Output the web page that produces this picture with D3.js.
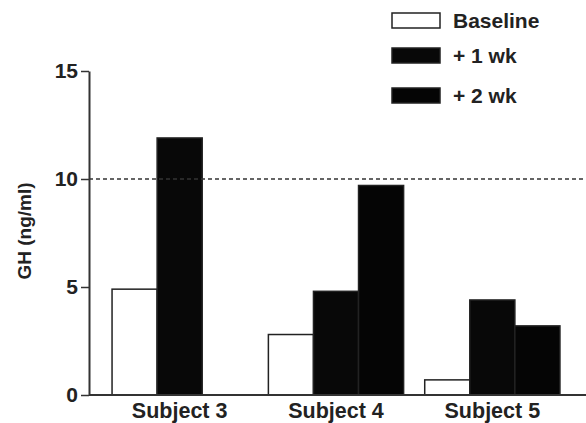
<!DOCTYPE html>
<html>
<head>
<meta charset="utf-8">
<script src="https://cdn.jsdelivr.net/npm/d3@7"></script>
<style>
  body { margin: 0; background: #fff; }
  svg { display: block; font-family: "Liberation Sans", Arial, sans-serif; }
</style>
</head>
<body>
<svg id="chart" width="586" height="423"></svg>
<script>
const subjects = ["Subject 3", "Subject 4", "Subject 5"];
const series = ["Baseline", "+ 1 wk", "+ 2 wk"];
const baseline = [4.9, 2.8, 0.7];
const week1 = [11.9, 4.8, 4.4];
const week2 = [null, 9.7, 3.2];
const yTicks = [0, 5, 10, 15];
const refLevel = 10;

const values = [baseline, week1, week2];
const fills = ["#fff", "#080808", "#050505"];

const svg = d3.select("#chart");

const y = d3.scaleLinear().domain([0, 15]).range([395, 71]);
const x0 = d3.scaleBand()
  .domain(subjects)
  .range([101.5, 570.5])
  .paddingInner(0.135)
  .paddingOuter(0.0675);
const x1 = d3.scaleBand().domain(series).range([0, x0.bandwidth()]);

const axisX = 89;

// bars
const bars = [];
subjects.forEach(function (s, i) {
  series.forEach(function (k, j) {
    if (values[j][i] != null) bars.push({ s: s, k: k, j: j, v: values[j][i] });
  });
});

svg.append("g")
  .selectAll("rect")
  .data(bars)
  .enter()
  .append("rect")
  .attr("x", d => x0(d.s) + x1(d.k))
  .attr("y", d => y(d.v))
  .attr("width", x1.bandwidth())
  .attr("height", d => y(0) - y(d.v))
  .attr("fill", d => fills[d.j])
  .attr("stroke", "#222")
  .attr("stroke-width", 1.5);

// dashed reference line
svg.append("line")
  .attr("x1", axisX).attr("x2", 586)
  .attr("y1", y(refLevel)).attr("y2", y(refLevel))
  .attr("stroke", "#333")
  .attr("stroke-width", 1.5)
  .attr("stroke-dasharray", "4,3");

// x axis line
svg.append("line")
  .attr("x1", axisX).attr("x2", 586)
  .attr("y1", y(0)).attr("y2", y(0))
  .attr("stroke", "#333")
  .attr("stroke-width", 2);

// y axis
const yAxis = svg.append("g")
  .attr("transform", "translate(" + axisX + ",0)")
  .call(d3.axisLeft(y).tickValues(yTicks).tickSize(8).tickPadding(3).tickSizeOuter(0));
yAxis.select(".domain").attr("stroke", "#333").attr("stroke-width", 2);
yAxis.selectAll(".tick line").attr("stroke", "#333").attr("stroke-width", 1.5);
yAxis.selectAll(".tick text")
  .attr("fill", "#222")
  .style("font-size", "21px")
  .style("font-weight", "bold")
  .style("font-family", "Liberation Sans, Arial, sans-serif");

// category labels
svg.append("g")
  .selectAll("text")
  .data(subjects)
  .enter()
  .append("text")
  .attr("x", d => x0(d) + x0.bandwidth() / 2)
  .attr("y", 418)
  .attr("text-anchor", "middle")
  .attr("fill", "#222")
  .style("font-size", "21.5px")
  .style("font-weight", "bold")
  .text(d => d);

// y label
svg.append("text")
  .attr("transform", "translate(31,231) rotate(-90)")
  .attr("text-anchor", "middle")
  .attr("fill", "#222")
  .style("font-size", "19px")
  .style("font-weight", "bold")
  .text("GH (ng/ml)");

// legend
const legendY = [13, 48, 88];
const legend = svg.append("g")
  .selectAll("g")
  .data(series)
  .enter()
  .append("g")
  .attr("transform", (d, i) => "translate(392," + legendY[i] + ")");
legend.append("rect")
  .attr("width", 48)
  .attr("height", 15)
  .attr("fill", (d, i) => fills[i])
  .attr("stroke", "#222")
  .attr("stroke-width", 1.5);
legend.append("text")
  .attr("x", 61)
  .attr("y", 15)
  .attr("fill", "#222")
  .style("font-size", "21px")
  .style("font-weight", "bold")
  .text(d => d);
</script>
</body>
</html>
